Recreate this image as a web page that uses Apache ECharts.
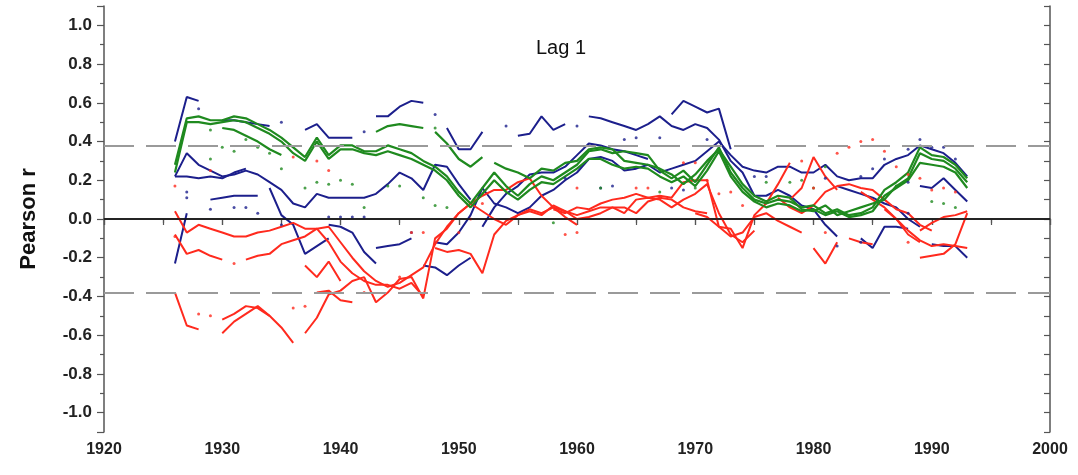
<!DOCTYPE html>
<html><head><meta charset="utf-8">
<script src="https://cdn.jsdelivr.net/npm/echarts@6/dist/echarts.min.js"></script>
<style>html,body{margin:0;padding:0;background:#fff}#c{width:1078px;height:475px}</style>
</head><body><div id="c"></div>
<script>
const N = null;
// ---- data ----
const xTicks = [1920, 2000, 10];          // min, max, step of year axis
const yRange = [-1.1, 1.1];
const critR = 0.38;                        // significance level (dashed lines)
const titleText = 'Lag 1';
const yName = 'Pearson r';

// helper: series values start at a given year, one value per year (null = gap)
function seg(start, vals) { return vals.map((v, i) => [start + i, v === null ? '-' : v]); }

// BLUE
const blueA = seg(1926, [.40,.63,.61,N, .51,.51,.50,.49,.48,N,N,.46,.49,.42, .42,.42,N,.53,.53,.58,.61,.60,N,.47,
  .36,.36,.45,N,N,.43,.44,.53,.46,.49, N,.53,.52,.50,.48,.46,.49,.53,.48,.46, .49,.47,.41,.30,.24,.12,.12,.15,.12,.07,
  .05,-.03,-.09]);
const blueB = seg(1968, [.54,.61,.58,.55,.57,.36]);
const blueC = seg(1926, [.22,.34,.28,.25, .22,.23,.25,.23,.19,.15,.08,.06,.13,.11, .11,.11,.11,.13,.18,.24,.21,.15,.28,.27, .18,.10]);
const blueC2 = seg(1926, [.22,.22,.21,.22,.21,.24,.26]);
const blueD = seg(1929, [.10,.11,.12,.12,.12]);
const blueE = seg(1926, [-.23,.03]);
const blueF = seg(1934, [.16,.02,-.03,-.18,-.14,-.10]);
const blueG = seg(1939, [-.03,-.04,-.07,-.17,-.23]);
const blueG2 = seg(1943, [-.15,-.14,-.13,-.10]);
const blueG3 = seg(1947, [-.24,-.25,-.29,-.24,-.20]);
const blueH = seg(1948, [-.12,-.13, -.07,.02,.16,.08,.06,.03,.06,.12,.15,.20, .24,.31,.32,.30,.25,.26,.28,.24,.26,.28,
  .30,.35,.40,.33,.27,.25,.24,.27,.27,.24, .24,.28,.22,.20,.21,.21,.28,.31,.33,.38, .36,.34,.29,.22]);
const blueI = seg(1952, [-.04,.06,.13,.17,.23,.24,.24,.27, .33,.39,.38,.36,.35,.33,.31]);
const blueJ = seg(1982, [.17,.15,.13,.11,.08,.06,.00,-.04]);
const blueK = seg(1984, [-.10,-.15,-.04,-.04,-.05]);
const blueL = seg(1990, [-.13,-.14,-.14,-.20]);
const blueM = seg(1989, [.17,.16,.21,.15,.09]);

// GREEN
const greenA = seg(1926, [.28,.52,.53,.51, .51,.53,.52,.49,.46,.42,.37,.32,.42,.33, .38,.38,.35,.35,.38,.36,.34,.30,.27,.22,
  .14,.08,.16,.24,.17,.12,.18,.22,.20,.24, .28,.35,.36,.34,.35,.34,.33,.25,.21,.25, .19,.28,.37,.24,.16,.10,.08,.10,.09,.06,
  .07,.03,.05,.02,.03,.06,.15,.19,.24,.37, .33,.32,.28,.21]);
const greenB = seg(1926, [.24,.50,.50,.49, .50,.51,.50,.47,.44,.40,.34,.30,.40,.31, .36,.36,.34,.33,.35,.33,.31,.28,.25,.20,
  .12,.06,.13,.20,.14,.10,.15,.19,.18,.22, .26,.31,.31,.28,.26,.27,.26,.22,.19,.22, .17,.25,.35,.22,.14,.09,.06,.08,.07,.04,
  .05,.02,.04,.01,.02,.04,.12,.16,.20,.29, .28,.27,.24,.16]);
const greenC = seg(1953, [.29,.26,.24,.21,.26,.25,.29, .30,.36,.37,.36,.30,.29,.28,.26,.23,.18,
  .23,.30,.36,.27,.18,.12,.09,.12,.11,.05, .04,.07,.02,.04,.06,.08,.10,.17,.21,.34, .31,.30,.26,.19]);
const greenD = seg(1930, [.47,.46,.43,.40,.36,.33]);
const greenE = seg(1943, [.45,.48,.49,.48,.47]);
const greenF = seg(1948, [.45,.39,.31,.27,.32]);

// RED
const redA = seg(1926, [-.38,-.55,-.57,N, -.59,-.53,-.49,-.45,-.50,-.56,-.64]);
const redA2 = seg(1930, [-.52,-.49,-.45,-.46,-.50]);
const redB = seg(1926, [.04,-.07,-.03,-.05, -.07,-.09,-.09,-.07,-.06,-.04,-.02,-.05,-.05,-.04, -.12,-.20,-.27,-.32,-.35,-.33,-.29,-.25,-.13,-.04,
  .03,.08,.04,.00,-.03,.02,.05,.03,.06,.04, .02,.04,.06,.06,.03,.10,.11,.10,.06,.10, .13,.18,.03,-.08,-.12,-.06]);
const redC = seg(1926, [-.08,-.18,-.16,-.19, -.21,N,-.21,-.19,-.18,-.13,-.11,-.09,-.05,-.12, -.22,-.28,-.32,-.34,-.34,-.36,-.33,-.40]);
const redD = seg(1937, [-.24,-.30,-.22,-.32]);
const redD2 = seg(1938, [-.38,-.37,-.42,-.43]);
const redE = seg(1937, [-.59,-.51,-.39, -.37,-.32,-.30,-.43,-.38,-.31,-.30,-.41,-.10,-.05, .03,.08,.12,.15,.15,.19,.21,.12,.06,.01, -.03]);
const redG = seg(1948, [-.15,-.17, -.16,-.18,-.28,-.08,-.01,.02,.04,.02,.07,.04, .00,.01,.03,.06,.06,.03,.09,.11,.10,.06, .04,.03]);
const redI = seg(1958, [.05,.03, .06,.05,.08,.10,.11,.13,.11,.12,.11,.19, .20,.20,-.04,-.05,-.15,.02,.08,.18,.29]);
const redJ = seg(1970, [.03,.01,-.04,-.09,-.07,.01,.03,-.01,-.04,-.07]);
const redK = seg(1977, [.11,.06,.03,.07,.14,.17,.18,.16,.15,.10,.05,.03,-.03,-.06]);
const redK2 = seg(1984, [.14,.10,.06,.00,-.08,-.12]);
const redL = seg(1978, [.10,.16,.32,.22,.15]);
const redM = seg(1980, [-.15,-.23,-.12]);
const redN = seg(1983, [-.10,-.12,-.13]);
const redO = seg(1986, [.05,.00,-.06,-.11,-.14,-.13,-.14,-.15]);
const redP = seg(1989, [-.06,-.02,.01,.02,.04]);
const redQ = seg(1989, [-.20,-.19,-.18,-.13,.03]);

// isolated (non-significant) points
const blueDots = [[1928,.57],[1935,.50],[1942,.45],[1948,.54],[1927,.11],[1929,.05],[1931,.06],[1932,.06],[1933,.03],[1927,.14],
  [1935,-.03],[1939,.01],[1940,.01],[1941,.01],[1942,.01],[1946,-.07],[1954,.48],[1960,.48],[1964,.41],[1965,.42],[1967,.42],
  [1971,.41],[1959,.21],[1962,.16],[1963,.17],[1968,.16],[1969,.15],[1975,.22],[1976,.22],[1981,.21],[1984,.22],[1985,.26],
  [1986,.31],[1988,.36],[1989,.41],[1990,.37],[1991,.37],[1992,.31],[1988,.03],[1988,.19],[1984,-.12],[1982,-.14]];
const greenDots = [[1929,.46],[1930,.37],[1931,.35],[1932,.41],[1933,.37],[1934,.34],[1935,.26],[1929,.31],[1937,.16],[1938,.19],
  [1939,.18],[1940,.20],[1941,.18],[1942,.06],[1944,.17],[1945,.17],[1947,.11],[1948,.07],[1949,.06],[1948,.47],[1958,-.02],
  [1962,.16],[1967,.14],[1970,.16],[1976,.19],[1978,.19],[1979,.20],[1980,.16],[1981,.27],[1990,.09],[1991,.08],[1992,.06],[1987,.17]];
const redDots = [[1926,.17],[1929,.25],[1936,.32],[1938,.30],[1939,.25],[1936,-.46],[1937,-.45],[1928,-.49],[1929,-.50],[1931,-.23],
  [1926,-.09],[1946,-.07],[1947,-.07],[1945,-.30],[1942,-.38],[1950,-.07],[1951,.00],[1952,.08],[1960,.16],[1965,.16],[1966,.16],
  [1969,.29],[1970,.29],[1971,.20],[1972,.13],[1973,.14],[1974,.07],[1979,.30],[1980,.16],[1982,.34],[1983,.37],[1984,.40],
  [1985,.41],[1986,.35],[1987,.27],[1988,.23],[1989,.21],[1990,.15],[1991,.16],[1992,.14],[1981,-.07],[1988,-.12],[1959,-.08],[1960,-.07]];

// ---- chart ----
const BLUE = '#1c1f8c', GREEN = '#1f8a1f', RED = '#ff2a1e';
const FONT = '"Liberation Sans", Arial, Helvetica, sans-serif';
const AX = '#555';

function line(data, color, width) {
  return {type: 'line', data: data, showSymbol: false, symbol: 'none', connectNulls: false, silent: true,
    lineStyle: {color: color, width: width}, itemStyle: {color: color}, z: 3};
}
function dots(data, color) {
  return {type: 'scatter', data: data, symbol: 'circle', symbolSize: 3, silent: true, itemStyle: {color: color}, z: 3};
}

const series = [];
[blueA, blueB, blueC, blueC2, blueD, blueE, blueF, blueG, blueG2, blueG3, blueH, blueI, blueJ, blueK, blueL, blueM]
  .forEach(d => series.push(line(d, BLUE, 2)));
[redA, redA2, redB, redC, redD, redD2, redE, redG, redI, redJ, redK, redK2, redL, redM, redN, redO, redP, redQ]
  .forEach(d => series.push(line(d, RED, 2)));
[greenA, greenB, greenC, greenD, greenE, greenF].forEach(d => series.push(line(d, GREEN, 2.2)));
series.push(dots(blueDots, BLUE), dots(greenDots, GREEN), dots(redDots, RED));
series.push({
  type: 'line', data: [], silent: true,
  markLine: {symbol: 'none', silent: true, label: {show: false}, animation: false,
    data: [
      {yAxis: 0, lineStyle: {color: '#111', type: 'solid', width: 1.5}},
      {yAxis: critR, lineStyle: {color: '#9a9a9a', type: [30, 12], width: 2}},
      {yAxis: -critR, lineStyle: {color: '#9a9a9a', type: [30, 12], width: 2}}
    ]}, z: 1
});

const labelStyle = {fontFamily: FONT, fontWeight: 'bold', fontSize: 16, color: '#222'};
const option = {
  animation: false,
  backgroundColor: '#fff',
  title: {text: titleText, left: 556, top: 33, textAlign: 'center',
    textStyle: {fontFamily: FONT, fontWeight: 'normal', fontSize: 20, color: '#111'}},
  grid: {left: 104, right: 28, top: 6, bottom: 43, containLabel: false},
  xAxis: [
    {type: 'value', min: xTicks[0], max: xTicks[1], interval: xTicks[2], position: 'bottom',
      axisLine: {lineStyle: {color: AX, width: 1.5}},
      axisTick: {show: true, length: 6, lineStyle: {color: AX, width: 1.2}},
      minorTick: {show: true, splitNumber: 2, length: 6, lineStyle: {color: AX, width: 1.2}},
      axisLabel: Object.assign({margin: 10, formatter: v => String(v)}, labelStyle),
      splitLine: {show: false}},
    {type: 'value', min: xTicks[0], max: xTicks[1], interval: xTicks[2], position: 'top',
      axisLine: {lineStyle: {color: AX, width: 1.5}},
      axisTick: {show: true, inside: true, length: 6, lineStyle: {color: AX, width: 1.2}},
      minorTick: {show: true, splitNumber: 2, length: 4, lineStyle: {color: AX, width: 1.2}},
      axisLabel: {show: false}, splitLine: {show: false}}
  ],
  yAxis: [
    {type: 'value', min: yRange[0], max: yRange[1], splitNumber: 11, position: 'left',
      name: yName, nameLocation: 'middle', nameGap: 64,
      nameTextStyle: {fontFamily: FONT, fontWeight: 'bold', fontSize: 22, color: '#111'},
      axisLine: {lineStyle: {color: AX, width: 1.5}},
      axisTick: {show: true, length: 7, lineStyle: {color: AX, width: 1.2}},
      minorTick: {show: true, splitNumber: 2, length: 4, lineStyle: {color: AX, width: 1.2}},
      axisLabel: Object.assign({margin: 12, formatter: v => (Math.abs(v) > 1.05 ? '' : v.toFixed(1))}, labelStyle, {fontSize: 17}),
      splitLine: {show: false}},
    {type: 'value', min: yRange[0], max: yRange[1], splitNumber: 11, position: 'right',
      axisLine: {lineStyle: {color: AX, width: 1.5}},
      axisTick: {show: true, inside: true, length: 6, lineStyle: {color: AX, width: 1.2}},
      minorTick: {show: true, splitNumber: 2, length: 6, lineStyle: {color: AX, width: 1.2}},
      axisLabel: {show: false}, splitLine: {show: false}}
  ],
  series: series
};
const chart = echarts.init(document.getElementById('c'), null, {renderer: 'canvas'});
chart.setOption(option);
</script></body></html>
